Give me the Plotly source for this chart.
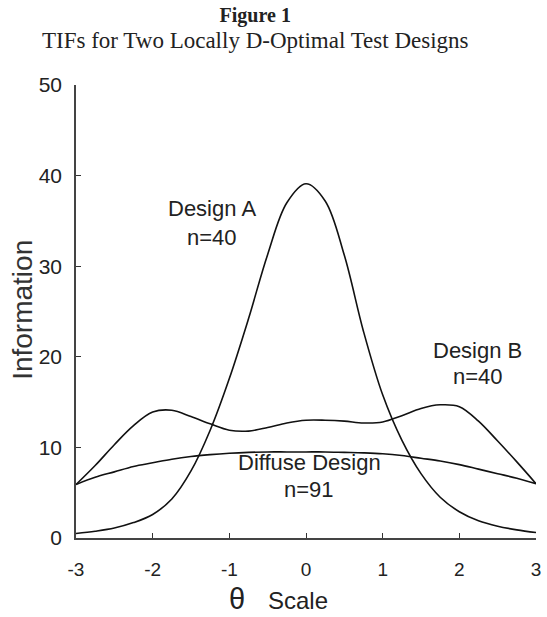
import plotly.graph_objects as go

theta = [-3, -2.75, -2.5, -2.25, -2, -1.75, -1.5, -1.25, -1, -0.75, -0.5, -0.25,
         0, 0.25, 0.5, 0.75, 1, 1.25, 1.5, 1.75, 2, 2.25, 2.5, 2.75, 3]

design_a = [0.5, 0.75, 1.1, 1.7, 2.6, 4.3, 7.4, 11.9, 17.6, 24.2, 31.3, 37.0,
            39.1, 37.2, 31.2, 22.8, 15.8, 10.8, 7.1, 4.5, 2.9, 1.9, 1.3, 0.9, 0.6]

design_b = [5.9, 8.0, 10.3, 12.4, 13.9, 14.1, 13.4, 12.6, 11.9, 11.8, 12.2, 12.7,
            13.0, 13.0, 12.9, 12.7, 12.8, 13.5, 14.3, 14.7, 14.5, 12.9, 10.7, 8.4, 6.0]

diffuse = [5.9, 6.7, 7.3, 7.9, 8.3, 8.7, 9.0, 9.2, 9.35, 9.45, 9.5, 9.5,
           9.5, 9.5, 9.45, 9.4, 9.3, 9.1, 8.8, 8.5, 8.1, 7.6, 7.1, 6.6, 6.0]

x_ticks = [-3, -2, -1, 0, 1, 2, 3]
y_ticks = [0, 10, 20, 30, 40, 50]

labels = [
    ("Design A", -1.23, 36.4), ("n=40", -1.23, 33.2),
    ("Design B", 2.24, 20.75), ("n=40", 2.24, 17.8),
    ("Diffuse Design", 0.045, 8.3), ("n=91", 0.045, 5.3),
]

SANS = "Liberation Sans, Arial, sans-serif"
SERIF = "Liberation Serif, Times New Roman, serif"
LINE = dict(color="#111111", width=1.6, shape="spline", smoothing=1.0)

fig = go.Figure()
for name, ys in [("Design A", design_a), ("Design B", design_b), ("Diffuse Design", diffuse)]:
    fig.add_trace(go.Scatter(x=theta, y=ys, mode="lines", name=name, line=LINE,
                             showlegend=False, hoverinfo="skip"))

annotations = []
for text, xv, yv in labels:
    annotations.append(dict(x=xv, y=yv, xref="x", yref="y", text=text, showarrow=False,
                            xanchor="center", yanchor="middle",
                            font=dict(family=SANS, size=22, color="#222222")))

# plot area: x 76..541, y 85..538 in page pixels
annotations += [
    dict(x=0.391, y=1.184, xref="paper", yref="paper",
         text="<b>Figure 1</b><br><span style='font-size:23px'>TIFs for Two Locally D-Optimal Test Designs</span>",
         showarrow=False, xanchor="center", yanchor="top", align="center",
         font=dict(family=SERIF, size=20, color="#222222")),
    dict(x=-0.118, y=0.503, xref="paper", yref="paper", text="Information",
         showarrow=False, textangle=-90, xanchor="center", yanchor="middle",
         font=dict(family=SANS, size=28, color="#333333")),
    dict(x=0.35, y=-0.135, xref="paper", yref="paper", text="θ",
         showarrow=False, xanchor="center", yanchor="middle",
         font=dict(family=SANS, size=29, color="#222222")),
    dict(x=0.483, y=-0.139, xref="paper", yref="paper", text="Scale",
         showarrow=False, xanchor="center", yanchor="middle",
         font=dict(family=SANS, size=24, color="#222222")),
]

fig.update_layout(
    width=547, height=617,
    margin=dict(l=76, r=6, t=85, b=79),
    paper_bgcolor="white", plot_bgcolor="white",
    annotations=annotations,
    xaxis=dict(range=[-3, 3], tickvals=x_ticks, ticktext=[str(v) for v in x_ticks],
               ticks="inside", ticklen=5, tickcolor="#333333", tickwidth=1,
               showline=True, linecolor="#444444", linewidth=1.5,
               showgrid=False, zeroline=False, ticklabelstandoff=13,
               tickfont=dict(family=SANS, size=19, color="#222222")),
    yaxis=dict(range=[0, 50], tickvals=y_ticks, ticktext=[str(v) for v in y_ticks],
               ticks="inside", ticklen=5, tickcolor="#333333", tickwidth=1,
               showline=True, linecolor="#444444", linewidth=1.5,
               showgrid=False, zeroline=False, ticklabelstandoff=8,
               tickfont=dict(family=SANS, size=21, color="#222222")),
)

fig.write_html("out.html", config={"displayModeBar": False},
               post_script="document.body.style.margin='0';document.body.style.overflow='hidden';")
